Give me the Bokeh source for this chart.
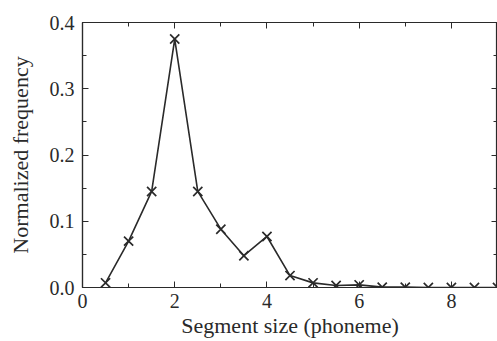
from bokeh.plotting import figure
from bokeh.models import LinearAxis, Range1d, FixedTicker, CustomJSTickFormatter
from bokeh.embed import file_html
from bokeh.resources import INLINE

seg_size = [0.5, 1.0, 1.5, 2.0, 2.5, 3.0, 3.5, 4.0, 4.5, 5.0, 5.5, 6.0, 6.5, 7.0, 7.5, 8.0, 8.5, 9.0]
freq = [0.007, 0.070, 0.145, 0.375, 0.145, 0.088, 0.048, 0.077, 0.018, 0.007,
        0.003, 0.004, 0.0005, 0.0005, 0.0, 0.0, 0.0, 0.0]
x_major = [0, 2, 4, 6, 8]
x_minor = [1, 3, 5, 7, 9]
y_major = [0.0, 0.1, 0.2, 0.3, 0.4]
y_minor = [0.05, 0.15, 0.25, 0.35]

FONT = "Liberation Serif"
INK = "#2a2a2a"

p = figure(width=497, height=341, output_backend="svg", toolbar_location=None,
           x_range=Range1d(0, 9.0), y_range=Range1d(0, 0.4),
           min_border_left=82, min_border_top=22, min_border_bottom=54, min_border_right=0,
           x_axis_label="Segment size (phoneme)", y_axis_label="Normalized frequency")
p.grid.visible = False
p.background_fill_color = "white"
p.border_fill_color = "white"
p.outline_line_color = INK
p.outline_line_width = 1.2

p.line(seg_size, freq, line_color=INK, line_width=1.6)
p.scatter(seg_size, freq, marker="x", size=13, line_color=INK, line_width=1.7)

def style(ax, labels=True):
    ax.axis_line_color = INK
    ax.axis_line_width = 1.2
    ax.major_tick_line_color = INK
    ax.minor_tick_line_color = INK
    ax.major_tick_in = 6
    ax.major_tick_out = 0
    ax.minor_tick_in = 4
    ax.minor_tick_out = 0
    if labels:
        ax.major_label_text_font = FONT
        ax.major_label_text_font_size = "20px"
        ax.major_label_text_color = INK
        ax.axis_label_text_font = FONT
        ax.axis_label_text_font_size = "22px"
        ax.axis_label_text_font_style = "normal"
        ax.axis_label_text_color = INK
    else:
        ax.formatter = CustomJSTickFormatter(code="return '';")
        ax.major_label_standoff = 0

xa = p.xaxis[0]
xa.ticker = FixedTicker(ticks=x_major, minor_ticks=x_minor)
style(xa)
xa.major_label_standoff = 6
xa.axis_label_standoff = 2

ya = p.yaxis[0]
ya.ticker = FixedTicker(ticks=y_major, minor_ticks=y_minor)
style(ya)
ya.formatter = CustomJSTickFormatter(code="return tick.toFixed(1);")
ya.major_label_standoff = 8
ya.axis_label_standoff = 14

top = LinearAxis(ticker=FixedTicker(ticks=x_major, minor_ticks=x_minor))
style(top, labels=False)
p.add_layout(top, "above")
right = LinearAxis(ticker=FixedTicker(ticks=y_major, minor_ticks=y_minor))
style(right, labels=False)
p.add_layout(right, "right")

open("out.html", "w").write(file_html(p, INLINE))
